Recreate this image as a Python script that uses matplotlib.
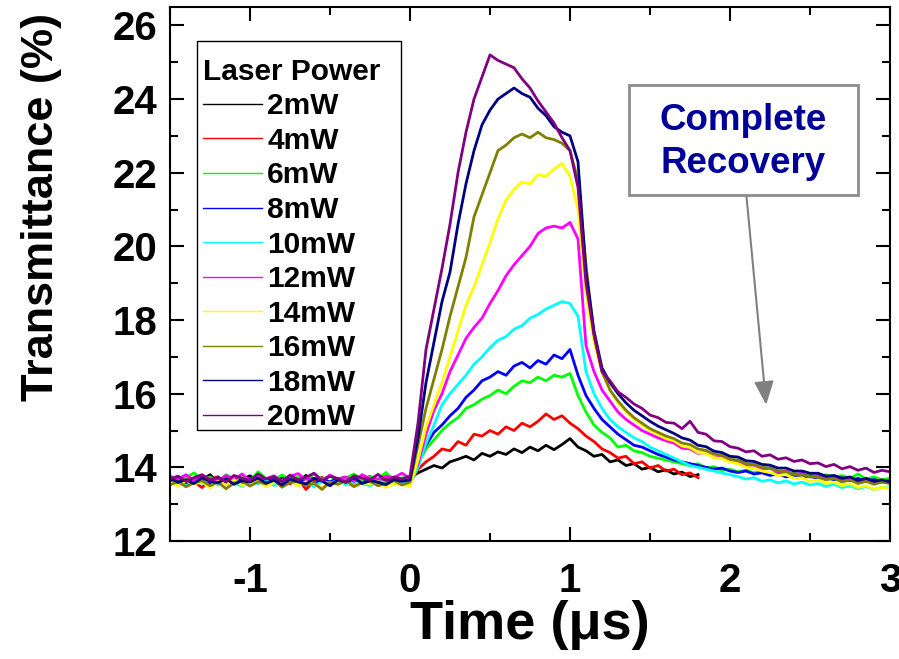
import numpy as np
import matplotlib
matplotlib.use("Agg")
import matplotlib.pyplot as plt
from matplotlib.ticker import MultipleLocator
from matplotlib.patches import Rectangle

plt.rcParams['font.family'] = ['Liberation Sans', 'DejaVu Sans']
plt.rcParams['font.weight'] = 'bold'
plt.rcParams['axes.unicode_minus'] = False

# Oscilloscope sampling grid (µs), 0.05 µs per sample
time_us = np.round(np.arange(91) * 0.05 - 1.5, 2)

power_labels = ["2mW", "4mW", "6mW", "8mW", "10mW",
                "12mW", "14mW", "16mW", "18mW", "20mW"]
trace_colors = ["#000000", "#FF0000", "#00FF00", "#0000FF", "#00FFFF",
                "#FF00FF", "#FFFF00", "#808000", "#000080", "#800080"]

# Transmittance (%) for each laser power
t_2mw = [13.62, 13.75, 13.58, 13.70, 13.66, 13.80, 13.60, 13.72, 13.55, 13.68,
         13.77, 13.63, 13.70, 13.58, 13.74, 13.66, 13.61, 13.78, 13.64, 13.70,
         13.57, 13.69, 13.73, 13.60, 13.67, 13.75, 13.62, 13.70, 13.58, 13.68,
         13.72,
         13.85, 13.95, 14.05, 13.98, 14.15, 14.22, 14.30, 14.20, 14.38, 14.30,
         14.42, 14.35, 14.50, 14.40, 14.55, 14.45, 14.60, 14.48, 14.62, 14.78,
         14.55, 14.45, 14.30, 14.35, 14.15, 14.20, 14.05, 14.10, 13.95, 14.00,
         13.88, 13.93, 13.82, 13.87, 13.75, 13.80]

t_4mw = [13.66, 13.58, 13.72, 13.61, 13.45, 13.68, 13.74, 13.59, 13.66, 13.52,
         13.70, 13.63, 13.57, 13.71, 13.64, 13.55, 13.69, 13.40, 13.62, 13.73,
         13.58, 13.66, 13.60, 13.48, 13.71, 13.63, 13.56, 13.69, 13.61, 13.66,
         13.58,
         13.95, 14.15, 14.30, 14.50, 14.45, 14.70, 14.60, 14.90, 14.85, 15.00,
         14.90, 15.10, 15.00, 15.20, 15.10, 15.25, 15.45, 15.30, 15.40, 15.20,
         15.05, 14.85, 14.70, 14.50, 14.40, 14.25, 14.30, 14.10, 14.15, 13.98,
         14.05, 13.90, 13.95, 13.80, 13.85, 13.72]

t_6mw = [13.78, 13.64, 13.72, 13.85, 13.66, 13.74, 13.60, 13.80, 13.69, 13.75,
         13.62, 13.88, 13.70, 13.65, 13.79, 13.68, 13.73, 13.61, 13.84, 13.67,
         13.76, 13.63, 13.71, 13.82, 13.66, 13.74, 13.69, 13.86, 13.64, 13.72,
         13.70,
         14.10, 14.50, 14.75, 15.00, 15.20, 15.35, 15.60, 15.70, 15.85, 15.95,
         16.10, 16.00, 16.20, 16.35, 16.30, 16.45, 16.35, 16.50, 16.45, 16.55,
         15.95, 15.50, 15.15, 14.95, 14.80, 14.55, 14.60, 14.45, 14.40, 14.30,
         14.25, 14.20, 14.15, 14.10, 14.05, 14.10, 13.98, 14.02, 13.92, 13.95,
         13.88, 13.92, 13.85, 13.90, 13.80, 13.86, 13.78, 13.84, 13.76, 13.80,
         13.74, 13.80, 13.72, 13.78, 13.70, 13.82, 13.68, 13.74, 13.66, 13.70]

t_8mw = [13.60, 13.70, 13.55, 13.66, 13.62, 13.58, 13.71, 13.54, 13.65, 13.60,
         13.68, 13.57, 13.63, 13.70, 13.56, 13.64, 13.59, 13.67, 13.53, 13.66,
         13.61, 13.69, 13.55, 13.63, 13.58, 13.67, 13.60, 13.56, 13.65, 13.62,
         13.66,
         14.10, 14.60, 14.95, 15.15, 15.40, 15.60, 15.90, 16.10, 16.35, 16.45,
         16.60, 16.50, 16.75, 16.85, 16.70, 16.90, 16.80, 17.05, 16.95, 17.20,
         16.50, 15.95, 15.60, 15.30, 15.10, 14.90, 14.75, 14.60, 14.55, 14.45,
         14.35, 14.28, 14.20, 14.15, 14.10, 14.05, 14.00, 13.95, 13.98, 13.90,
         13.86, 13.90, 13.82, 13.85, 13.78, 13.82, 13.74, 13.79, 13.72, 13.76,
         13.70, 13.74, 13.66, 13.72, 13.64, 13.70, 13.62, 13.67, 13.60, 13.64]

t_10mw = [13.55, 13.64, 13.50, 13.60, 13.57, 13.66, 13.52, 13.61, 13.58, 13.48,
          13.62, 13.56, 13.65, 13.51, 13.59, 13.63, 13.54, 13.60, 13.47, 13.62,
          13.57, 13.64, 13.53, 13.60, 13.56, 13.50, 13.63, 13.58, 13.54, 13.61,
          13.57,
          14.00, 14.65, 15.15, 15.70, 16.00, 16.25, 16.50, 16.80, 17.00, 17.25,
          17.45, 17.55, 17.75, 17.85, 18.05, 18.15, 18.30, 18.40, 18.50, 18.45,
          18.10, 16.60, 16.00, 15.60, 15.30, 15.10, 14.95, 14.80, 14.70, 14.55,
          14.45, 14.35, 14.25, 14.15, 14.05, 14.00, 13.95, 13.90, 13.85, 13.80,
          13.75, 13.68, 13.72, 13.62, 13.66, 13.58, 13.63, 13.55, 13.60, 13.52,
          13.56, 13.48, 13.54, 13.45, 13.50, 13.42, 13.48, 13.40, 13.46, 13.44]

t_12mw = [13.74, 13.68, 13.80, 13.65, 13.76, 13.70, 13.62, 13.78, 13.67, 13.82,
          13.64, 13.72, 13.69, 13.77, 13.61, 13.75, 13.83, 13.66, 13.71, 13.64,
          13.79, 13.68, 13.74, 13.62, 13.80, 13.70, 13.66, 13.76, 13.72, 13.84,
          13.70,
          14.10, 14.90, 15.55, 16.00, 16.60, 17.05, 17.50, 17.80, 18.05, 18.45,
          18.80, 19.20, 19.50, 19.75, 20.00, 20.35, 20.50, 20.55, 20.50, 20.65,
          20.20, 17.30, 16.60, 16.10, 15.80, 15.50, 15.30, 15.15, 15.00, 14.90,
          14.80, 14.72, 14.66, 14.52, 14.50, 14.38, 14.40, 14.26, 14.28, 14.16,
          14.14, 14.04, 14.06, 13.94, 13.98, 13.86, 13.90, 13.80, 13.84, 13.74,
          13.78, 13.68, 13.74, 13.62, 13.70, 13.58, 13.66, 13.56, 13.62, 13.58]

t_14mw = [13.58, 13.50, 13.64, 13.55, 13.60, 13.45, 13.62, 13.53, 13.66, 13.51,
          13.57, 13.63, 13.48, 13.59, 13.54, 13.65, 13.50, 13.61, 13.56, 13.44,
          13.60, 13.52, 13.63, 13.49, 13.58, 13.55, 13.62, 13.46, 13.57, 13.53,
          13.50,
          14.20, 15.10, 15.70, 16.30, 17.00, 17.70, 18.40, 18.90, 19.50, 20.10,
          20.75, 21.25, 21.55, 21.75, 21.70, 21.95, 21.90, 22.10, 22.25, 21.90,
          21.00, 18.70, 17.40, 16.60, 16.10, 15.75, 15.50, 15.30, 15.15, 15.00,
          14.90, 14.78, 14.72, 14.58, 14.54, 14.40, 14.38, 14.26, 14.24, 14.14,
          14.10, 14.00, 13.98, 13.90, 13.86, 13.78, 13.80, 13.70, 13.72, 13.62,
          13.66, 13.56, 13.60, 13.50, 13.55, 13.45, 13.50, 13.40, 13.46, 13.42]

t_16mw = [13.52, 13.62, 13.47, 13.58, 13.64, 13.50, 13.60, 13.42, 13.57, 13.63,
          13.49, 13.61, 13.55, 13.66, 13.46, 13.59, 13.62, 13.51, 13.57, 13.40,
          13.60, 13.54, 13.65, 13.48, 13.58, 13.62, 13.50, 13.56, 13.64, 13.52,
          13.60,
          14.60, 15.60, 16.40, 17.20, 18.10, 18.90, 19.70, 20.80, 21.40, 22.00,
          22.60, 22.75, 22.95, 23.05, 22.95, 23.10, 22.95, 22.90, 22.80, 22.60,
          21.80, 19.50, 17.60, 16.60, 16.10, 15.80, 15.55, 15.35, 15.20, 15.05,
          14.95, 14.85, 14.78, 14.66, 14.62, 14.50, 14.46, 14.36, 14.32, 14.22,
          14.20, 14.10, 14.08, 14.00, 13.98, 13.90, 13.88, 13.82, 13.80, 13.74,
          13.74, 13.66, 13.70, 13.60, 13.66, 13.56, 13.62, 13.54, 13.60, 13.56]

t_18mw = [13.70, 13.60, 13.66, 13.56, 13.72, 13.62, 13.58, 13.69, 13.54, 13.64,
          13.60, 13.71, 13.57, 13.65, 13.52, 13.68, 13.61, 13.55, 13.70, 13.63,
          13.50, 13.66, 13.59, 13.72, 13.56, 13.64, 13.60, 13.53, 13.67, 13.62,
          13.66,
          14.80, 16.30, 17.40, 18.50, 19.30, 20.60, 21.70, 22.60, 23.30, 23.70,
          24.00, 24.15, 24.30, 24.15, 24.05, 23.75, 23.55, 23.25, 23.10, 23.00,
          22.30, 19.30, 17.70, 16.70, 16.30, 16.00, 15.75, 15.55, 15.40, 15.25,
          15.12, 15.02, 14.92, 14.80, 14.74, 14.60, 14.56, 14.44, 14.40, 14.30,
          14.28, 14.18, 14.16, 14.08, 14.06, 13.98, 13.98, 13.90, 13.90, 13.84,
          13.84, 13.76, 13.78, 13.70, 13.74, 13.64, 13.70, 13.62, 13.66, 13.60]

t_20mw = [13.68, 13.76, 13.62, 13.72, 13.80, 13.65, 13.74, 13.60, 13.78, 13.70,
          13.64, 13.82, 13.68, 13.75, 13.61, 13.79, 13.66, 13.73, 13.84, 13.63,
          13.76, 13.69, 13.60, 13.77, 13.71, 13.66, 13.81, 13.64, 13.74, 13.68,
          13.76,
          15.20, 17.20, 18.30, 19.40, 20.60, 22.00, 23.10, 24.00, 24.60, 25.20,
          25.05, 24.95, 24.85, 24.55, 24.30, 23.95, 23.65, 23.35, 22.95, 22.60,
          21.60, 19.00, 17.60, 16.60, 16.35, 16.05, 15.90, 15.72, 15.60, 15.42,
          15.35, 15.22, 15.20, 15.05, 15.25, 14.95, 14.90, 14.72, 14.70, 14.56,
          14.52, 14.42, 14.45, 14.30, 14.34, 14.22, 14.26, 14.16, 14.20, 14.10,
          14.12, 14.02, 14.08, 13.96, 14.02, 13.92, 13.98, 13.86, 13.92, 13.88]

traces = [t_2mw, t_4mw, t_6mw, t_8mw, t_10mw,
          t_12mw, t_14mw, t_16mw, t_18mw, t_20mw]

fig = plt.figure(figsize=(8.99, 6.59), dpi=100)
ax = fig.add_axes([170 / 899, 118 / 659, 720 / 899, 534 / 659])

for label, vals, color in zip(power_labels, traces, trace_colors):
    ax.plot(time_us[:len(vals)], vals, color=color, lw=2.0, label=label)

ax.set_xlim(-1.5, 3)
ax.set_ylim(12, 26.5)
ax.xaxis.set_major_locator(MultipleLocator(1))
ax.xaxis.set_minor_locator(MultipleLocator(0.5))
ax.yaxis.set_major_locator(MultipleLocator(2))
ax.yaxis.set_minor_locator(MultipleLocator(1))
ax.tick_params(which='both', direction='in', top=True, right=True,
               width=1.5, labelsize=29)
ax.tick_params(which='major', length=10)
ax.tick_params(which='minor', length=6)
ax.tick_params(axis='x', pad=15)
ax.tick_params(axis='y', pad=9)
for sp in ax.spines.values():
    sp.set_linewidth(1.5)

ax.set_xlabel('Time (\u03bcs)', fontsize=39, fontweight='bold', labelpad=0)
ax.set_ylabel('Transmittance (%)', fontsize=32.5, fontweight='bold')
ax.yaxis.set_label_coords(-0.15, 0.625)

# Legend: frame drawn separately so the title sits lower inside the box
ax.add_patch(Rectangle((0.0375, 0.2079), 0.2833, 0.7284, transform=ax.transAxes,
                       facecolor='white', edgecolor='black', lw=1.0, zorder=4))
leg = ax.legend(loc='upper left', bbox_to_anchor=(0.0458, 0.905),
                borderaxespad=0, title='Laser Power', alignment='left',
                prop={'weight': 'bold', 'size': 21.5},
                title_fontproperties={'weight': 'bold', 'size': 21.5},
                frameon=False, handlelength=1.98,
                handletextpad=0.17, labelspacing=0.22, borderpad=0)
leg.set_zorder(5)
for line in leg.get_lines():
    line.set_linewidth(1.0)

# "Complete Recovery" call-out with arrow pointing at the tail
ax.add_patch(Rectangle((0.6375, 0.648), 0.318, 0.206, transform=ax.transAxes,
                       facecolor='white', edgecolor='#8c8c8c', lw=2, zorder=5))
ax.text(0.7965, 0.748, 'Complete\nRecovery', transform=ax.transAxes,
        ha='center', va='center', color='#000099', fontsize=26.5,
        fontweight='bold', linespacing=1.3, zorder=6)
ax.annotate('', xy=(0.828, 0.255), xytext=(0.800, 0.655),
            xycoords='axes fraction', textcoords='axes fraction',
            arrowprops=dict(arrowstyle='-|>,head_length=0.6,head_width=0.25',
                            color='#808080', lw=1.5, mutation_scale=24,
                            shrinkA=0, shrinkB=0))

fig.savefig('out.png', dpi=100)
